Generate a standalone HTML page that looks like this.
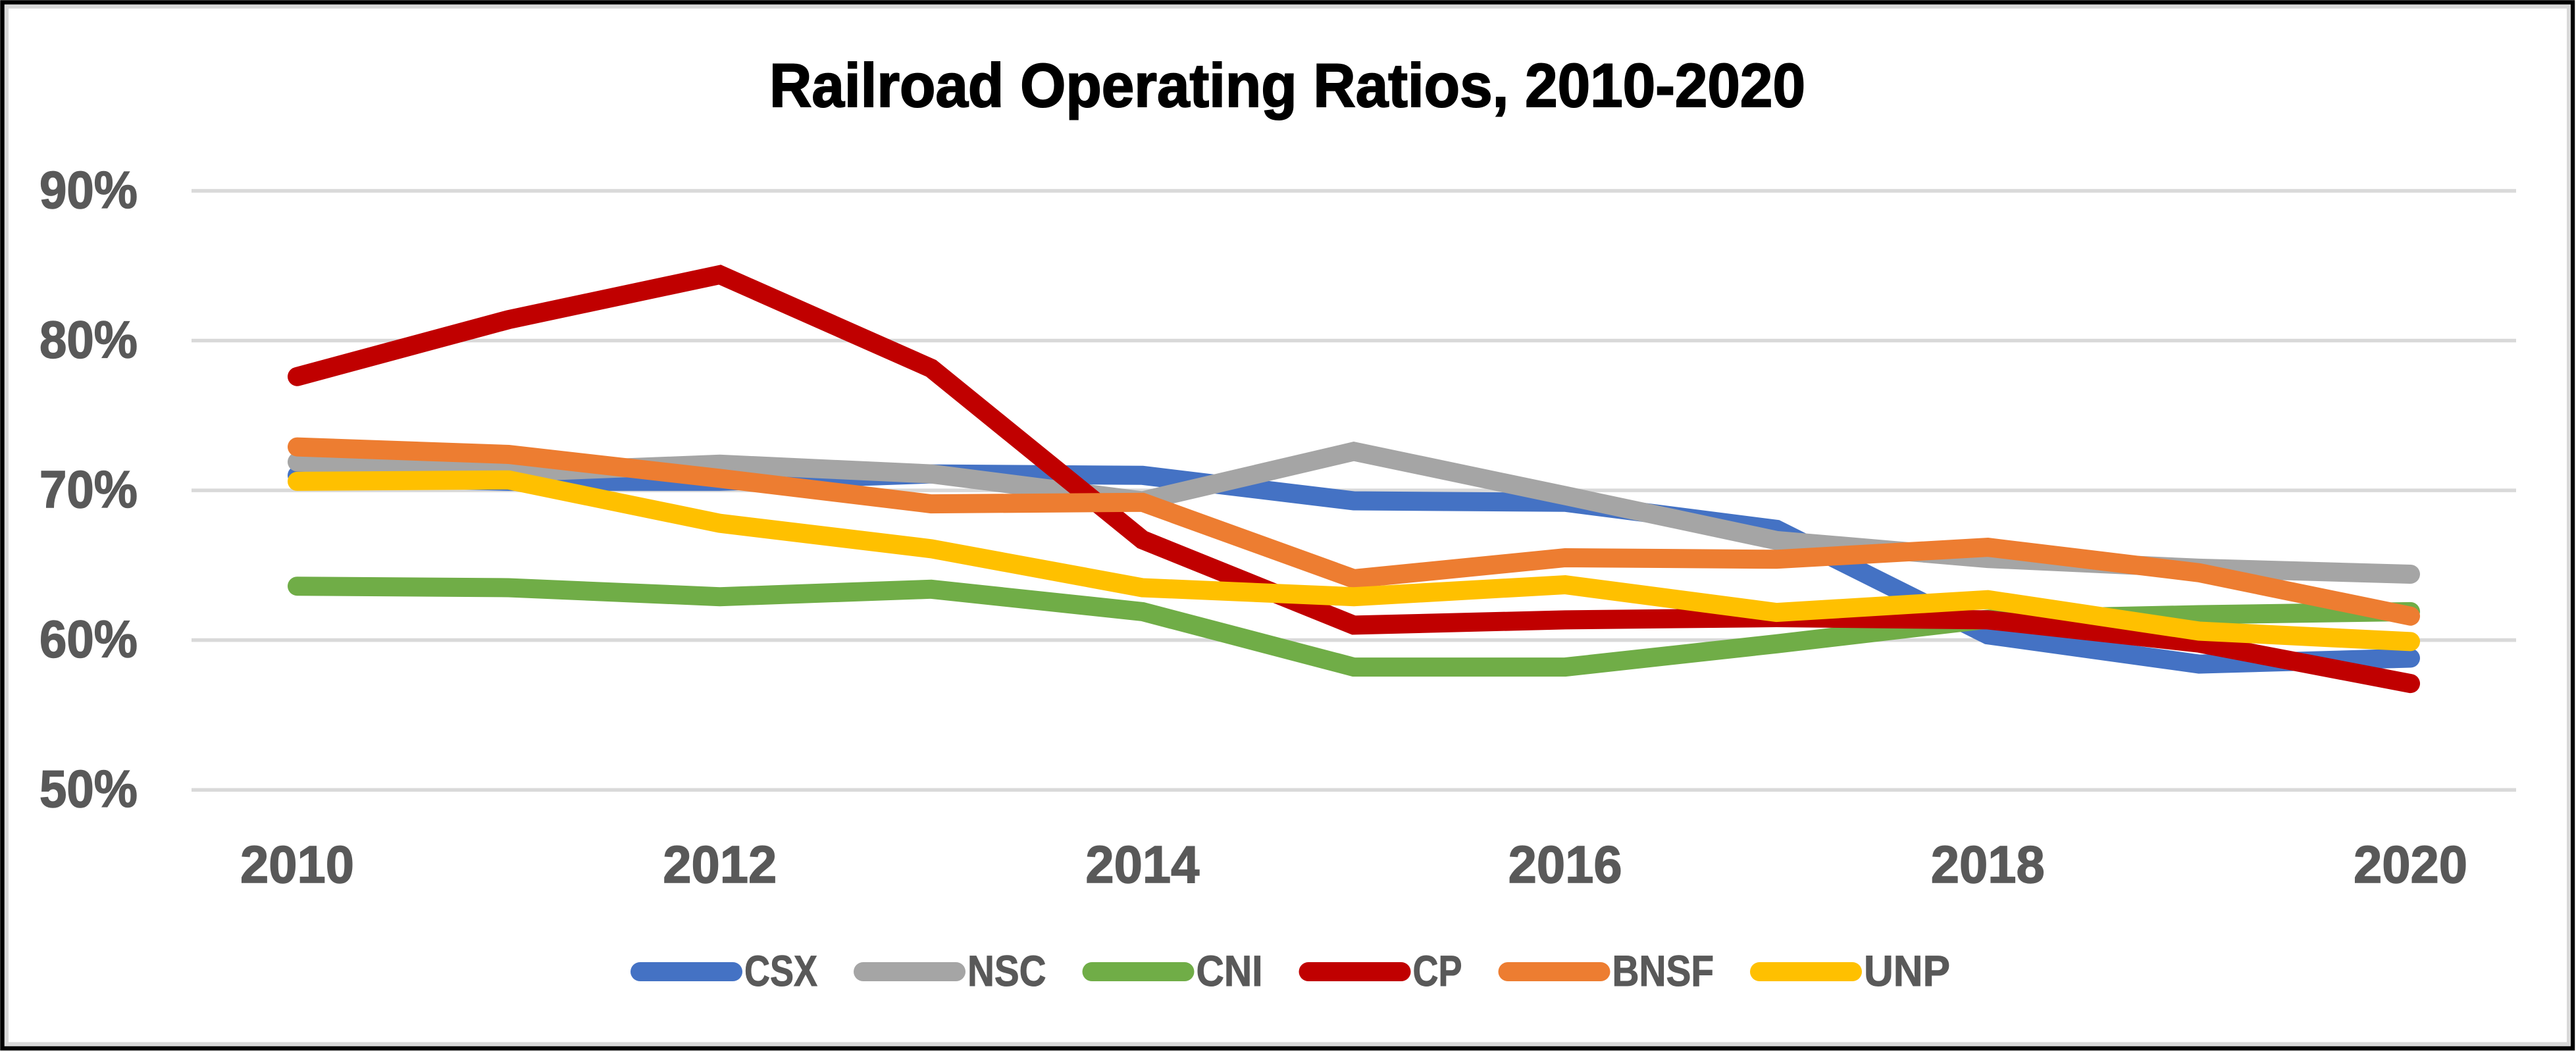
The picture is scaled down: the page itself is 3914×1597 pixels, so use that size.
<!DOCTYPE html>
<html lang="en">
<head>
<meta charset="utf-8">
<title>Railroad Operating Ratios, 2010-2020</title>
<style>
html,body{margin:0;padding:0;background:#fff;width:3914px;height:1597px;overflow:hidden}
svg{display:block}
text{font-family:"Liberation Sans",Arial,sans-serif;font-weight:700}
</style>
</head>
<body>
<svg id="chart" xmlns="http://www.w3.org/2000/svg" width="3914" height="1597" viewBox="0 0 3914 1597">
  <rect x="0" y="0" width="3914" height="1597" fill="#ffffff"/>
  <rect x="3.5" y="3.5" width="3905.5" height="1589.5" fill="none" stroke="#000000" stroke-width="6.5"/>
  <rect x="10" y="10" width="3893" height="1576.5" fill="none" stroke="#d9d9d9" stroke-width="6"/>
  <text x="1169" y="162" font-size="94" fill="#000000" stroke="#000000" stroke-width="2" textLength="1574" lengthAdjust="spacingAndGlyphs">Railroad Operating Ratios, 2010-2020</text>
  <g id="grid"></g>
  <g id="yaxis"></g>
  <g id="xaxis"></g>
  <g id="series"></g>
  <g id="legend"></g>
</svg>
<script>
const years = [2010, 2011, 2012, 2013, 2014, 2015, 2016, 2017, 2018, 2019, 2020];
const xTickYears = [2010, 2012, 2014, 2016, 2018, 2020];
const yTicks = [50, 60, 70, 80, 90];
const seriesNames = ['CSX', 'NSC', 'CNI', 'CP', 'BNSF', 'UNP'];
const seriesColors = ['#4472c4', '#a5a5a5', '#70ad47', '#c00000', '#ed7d31', '#ffc000'];
const csx = [71.0, 70.6, 70.6, 71.1, 71.0, 69.3, 69.2, 67.4, 60.35, 58.4, 58.8];
const nsc = [71.9, 71.2, 71.75, 71.1, 69.3, 72.6, 69.65, 66.65, 65.45, 64.8, 64.4];
const cni = [63.6, 63.5, 62.9, 63.4, 61.9, 58.2, 58.2, 59.75, 61.4, 61.7, 61.9];
const cp = [77.6, 81.4, 84.4, 78.15, 66.7, 61.0, 61.35, 61.5, 61.35, 59.8, 57.1];
const bnsf = [72.9, 72.4, 70.8, 69.1, 69.2, 64.1, 65.5, 65.4, 66.2, 64.5, 61.6];
const unp = [70.6, 70.7, 67.8, 66.1, 63.5, 62.9, 63.7, 61.85, 62.7, 60.6, 59.9];
const seriesValues = [csx, nsc, cni, cp, bnsf, unp];

const NS = 'http://www.w3.org/2000/svg';
const plotLeft = 291, plotRight = 3823;
const y90 = 290, y50 = 1200.2;
const lineWidth = 29;
const legendTextWidths = [111, 119.5, 101, 75, 154.5, 131];

function xScale(year) {
  const band = (plotRight - plotLeft) / years.length;
  return plotLeft + band * (year - years[0] + 0.5);
}
function yScale(v) {
  return y50 + (v - 50) * (y90 - y50) / 40;
}
function mk(tag, attrs, parent) {
  const el = document.createElementNS(NS, tag);
  for (const k in attrs) el.setAttribute(k, attrs[k]);
  parent.appendChild(el);
  return el;
}

const grid = document.getElementById('grid');
const yaxis = document.getElementById('yaxis');
yTicks.forEach(function (t) {
  const line = mk('line', {x1: plotLeft, x2: plotRight, y1: yScale(t), y2: yScale(t), stroke: '#d9d9d9', 'stroke-width': 5.5}, grid);
  
  
  const label = mk('text', {x: 60, y: yScale(t) + 26, 'font-size': 80, fill: '#595959', stroke: '#595959', 'stroke-width': 1.5, textLength: 149, lengthAdjust: 'spacingAndGlyphs'}, yaxis);
  
  
  label.textContent = t + '%';
});

const xaxis = document.getElementById('xaxis');
xTickYears.forEach(function (yr) {
  const label = mk('text', {x: xScale(yr), y: 1341, 'font-size': 80, fill: '#595959', stroke: '#595959', 'stroke-width': 1.5, 'text-anchor': 'middle', textLength: 173, lengthAdjust: 'spacingAndGlyphs'}, xaxis);
  
  
  label.textContent = yr;
});

const seriesGroup = document.getElementById('series');
seriesNames.forEach(function (name, i) {
  const pts = seriesValues[i].map(function (v, j) {
    return xScale(years[j]).toFixed(1) + ',' + yScale(v).toFixed(1);
  }).join(' ');
  const line = mk('polyline', {points: pts, fill: 'none', stroke: seriesColors[i], 'stroke-width': lineWidth, 'stroke-linecap': 'round', 'stroke-linejoin': 'miter', 'stroke-miterlimit': 10}, seriesGroup);
  
  
});

const legend = document.getElementById('legend');
let cursor = 958;
seriesNames.forEach(function (name, i) {
  const swatch = mk('line', {x1: cursor + lineWidth / 2, x2: cursor + 170 - lineWidth / 2, y1: 1476.5, y2: 1476.5, stroke: seriesColors[i], 'stroke-width': lineWidth, 'stroke-linecap': 'round'}, legend);
  
  
  const w = legendTextWidths[i];
  const label = mk('text', {x: cursor + 173, y: 1498, 'font-size': 66, fill: '#595959', stroke: '#595959', 'stroke-width': 1, textLength: w, lengthAdjust: 'spacingAndGlyphs'}, legend);
  
  
  label.textContent = name;
  cursor += 173 + w + 55;
});
</script>
</body>
</html>
